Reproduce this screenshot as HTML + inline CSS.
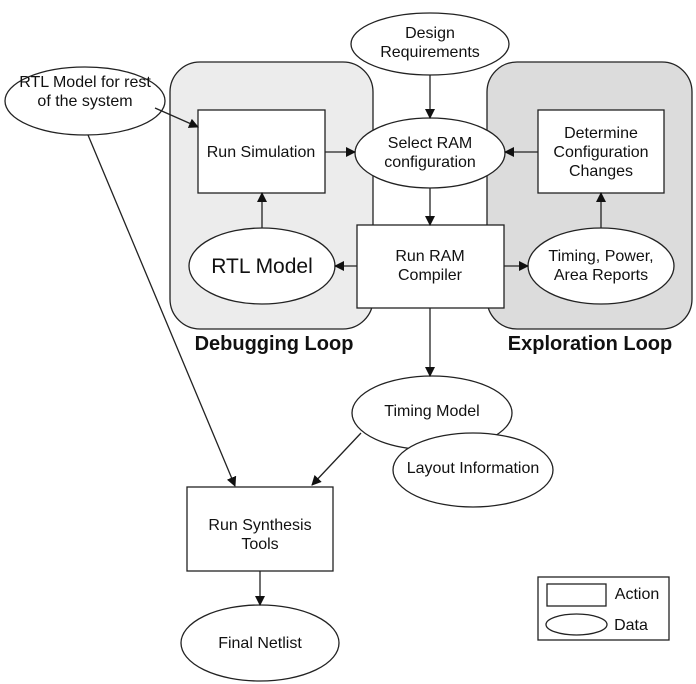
<!DOCTYPE html>
<html><head><meta charset="utf-8"><style>
html,body{margin:0;padding:0;background:#fff}
svg{display:block}
text{font-family:"Liberation Sans",sans-serif;font-size:16px;fill:#111;text-anchor:middle}
.b{font-weight:bold;font-size:20px}
</style></head><body>
<svg width="696" height="684" viewBox="0 0 696 684" xmlns="http://www.w3.org/2000/svg">
<defs><marker id="a" markerWidth="10" markerHeight="10" refX="9" refY="5" orient="auto" markerUnits="userSpaceOnUse"><path d="M0,0 L10,5 L0,10 z" fill="#111"/></marker></defs>
<g stroke="#222" stroke-width="1.3">
<rect x="170" y="62" width="203" height="267" rx="30" fill="#ececec"/>
<rect x="487" y="62" width="205" height="267" rx="30" fill="#dcdcdc"/>
<ellipse cx="430" cy="44" rx="79" ry="31" fill="#fff"/>
<ellipse cx="85" cy="101" rx="80" ry="34" fill="#fff"/>
<rect x="198" y="110" width="127" height="83" fill="#fff"/>
<ellipse cx="430" cy="153" rx="75" ry="35" fill="#fff"/>
<rect x="538" y="110" width="126" height="83" fill="#fff"/>
<ellipse cx="262" cy="266" rx="73" ry="38" fill="#fff"/>
<rect x="357" y="225" width="147" height="83" fill="#fff"/>
<ellipse cx="601" cy="266" rx="73" ry="38" fill="#fff"/>
<ellipse cx="432" cy="413" rx="80" ry="37" fill="#fff"/>
<ellipse cx="473" cy="470" rx="80" ry="37" fill="#fff"/>
<rect x="187" y="487" width="146" height="84" fill="#fff"/>
<ellipse cx="260" cy="643" rx="79" ry="38" fill="#fff"/>
<rect x="538" y="577" width="131" height="63" fill="#fff"/>
<rect x="547" y="584" width="59" height="22" fill="#fff"/>
<ellipse cx="576.5" cy="624.5" rx="30.5" ry="10.5" fill="#fff"/>
<g fill="none" marker-end="url(#a)">
<line x1="430" y1="75" x2="430" y2="118"/>
<line x1="430" y1="188" x2="430" y2="225"/>
<line x1="430" y1="308" x2="430" y2="376"/>
<line x1="325" y1="152" x2="355" y2="152"/>
<line x1="538" y1="152" x2="505" y2="152"/>
<line x1="262" y1="228" x2="262" y2="193"/>
<line x1="601" y1="228" x2="601" y2="193"/>
<line x1="357" y1="266" x2="335" y2="266"/>
<line x1="504" y1="266" x2="528" y2="266"/>
<line x1="155" y1="108" x2="198" y2="127"/>
<line x1="88" y1="135" x2="235" y2="486"/>
<line x1="361" y1="433" x2="312" y2="485"/>
<line x1="260" y1="571" x2="260" y2="605"/>
</g>
</g>
<text x="430" y="38">Design</text><text x="430" y="57">Requirements</text>
<text x="85" y="87">RTL Model for rest</text><text x="85" y="106">of the system</text>
<text x="261" y="157">Run Simulation</text>
<text x="430" y="148">Select RAM</text><text x="430" y="167">configuration</text>
<text x="601" y="138">Determine</text><text x="601" y="157">Configuration</text><text x="601" y="176">Changes</text>
<text x="262" y="273" style="font-size:21px">RTL Model</text>
<text x="430" y="261">Run RAM</text><text x="430" y="280">Compiler</text>
<text x="601" y="261">Timing, Power,</text><text x="601" y="280">Area Reports</text>
<text class="b" x="274" y="350">Debugging Loop</text>
<text class="b" x="590" y="350">Exploration Loop</text>
<text x="432" y="416">Timing Model</text>
<text x="473" y="473">Layout Information</text>
<text x="260" y="530">Run Synthesis</text><text x="260" y="549">Tools</text>
<text x="260" y="648">Final Netlist</text>
<text x="637" y="599">Action</text>
<text x="631" y="630">Data</text>
</svg>
</body></html>
